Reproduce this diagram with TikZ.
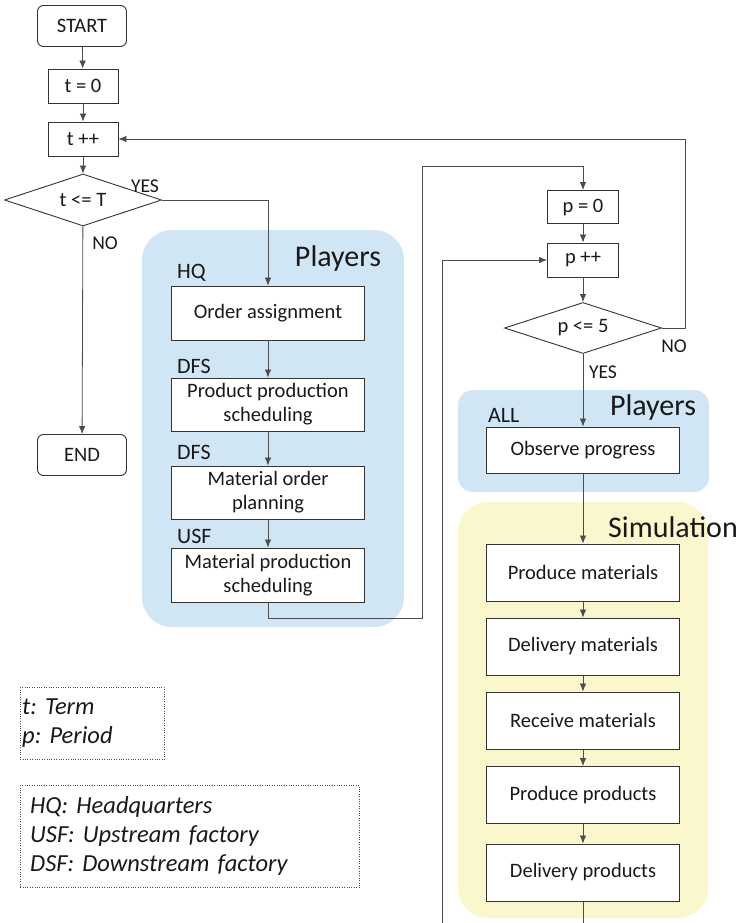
\documentclass[tikz,border=0pt]{standalone}
\usepackage{fontspec}
\setmainfont{Carlito}
\usepackage{xcolor}
\usetikzlibrary{positioning, arrows.meta, shapes.geometric}

\definecolor{playersblue}{HTML}{D0E6F5}
\definecolor{simyellow}{HTML}{FAF7CC}
\frenchspacing

\begin{document}
\begin{tikzpicture}[
    x=1pt, y=-1pt,
    every node/.style={text=black!90},
    flow/.style={draw=black!80, line width=0.9pt, fill=white, minimum width=193pt, minimum height=54pt, align=center, inner sep=2pt, font=\fontsize{20.5}{24}\selectfont},
    counter/.style={flow, minimum width=70pt, minimum height=34pt},
    terminal/.style={counter, rounded corners=6pt, minimum width=89pt, minimum height=41pt},
    decision/.style={draw=black!80, line width=0.9pt, fill=white, diamond, aspect=3, minimum width=157pt, minimum height=52pt, inner sep=1pt, font=\fontsize{20.5}{24}\selectfont},
    simstep/.style={flow, minimum height=57pt},
    role/.style={anchor=west, inner sep=0pt, font=\fontsize{22}{24}\selectfont},
    group/.style={font=\fontsize{30}{34}\selectfont},
    answer/.style={font=\fontsize{19.5}{22}\selectfont},
    legend/.style={draw=black!70, dotted, anchor=north west, align=left, font=\fontsize{24.5}{29}\selectfont\itshape},
    arr/.style={-{Latex[length=8pt, width=6.5pt]}, draw=black!70, line width=0.8pt},
    link/.style={draw=black!70, line width=0.8pt},
]
\useasboundingbox (0,0) rectangle (741,923);

% --- background panels ---
\fill[playersblue, rounded corners=30pt] (142,230) rectangle (404,627);
\fill[playersblue, rounded corners=15pt] (458,390) rectangle (709,492);
\fill[simyellow, rounded corners=30pt] (458,502) rectangle (708,918);

% --- term loop ---
\node[terminal] (start) at (82,26) {START};
\node[counter] (tzero) at (83,86) {t = 0};
\node[counter] (tinc) at (83,139) {t ++};
\node[decision] (tcheck) at (83,200) {t <= T};
\node[terminal] (stop) at (82,455) {END};

\draw[arr] (start) -- (tzero);
\draw[arr] (tzero) -- (tinc);
\draw[arr] (tinc) -- (tcheck);
\draw[arr] (tcheck) -- (stop);

\node[answer] (tyes) at (145,186) {YES};
\node[answer] (tno) at (105,243) {NO};

% --- planning by players ---
\node[group] (planners) at (338,258) {Players};
\node[role] (hq) at (177,273) {HQ};
\node[flow] (order) at (268,313) {Order assignment};
\node[role] (dfsa) at (177,366) {DFS};
\node[flow, minimum height=53pt] (prodsched) at (268,404.5) {Product production\\scheduling};
\node[role] (dfsb) at (177,452) {DFS};
\node[flow, minimum height=53pt] (matplan) at (268,492.5) {Material order\\planning};
\node[role] (usf) at (177,536) {USF};
\node[flow] (matsched) at (268,575) {Material production\\scheduling};

\draw[arr] (tcheck.east) -| (order.north);
\draw[arr] (order) -- (prodsched);
\draw[arr] (prodsched) -- (matplan);
\draw[arr] (matplan) -- (matsched);

% --- period loop ---
\node[counter, minimum width=71pt, minimum height=33pt] (pzero) at (583,207) {p = 0};
\node[counter, minimum width=71pt] (pinc) at (583,260) {p ++};
\node[decision, minimum height=51pt] (pcheck) at (583,328) {p <= 5};

\draw[arr] (matsched.south) |- (422,618) -- (422,166) -| (pzero.north);
\draw[arr] (pzero) -- (pinc);
\draw[arr] (pinc) -- (pcheck);
\draw[arr] (pcheck.east) -- ++(23,0) |- (tinc.east);

\node[answer] (pno) at (674,346) {NO};
\node[answer] (pyes) at (603,372) {YES};

% --- observation ---
\node[group] (observers) at (653,407) {Players};
\node[role] (all) at (488,415) {ALL};
\node[flow, minimum height=46pt] (observe) at (583,450) {Observe progress};

\draw[arr] (pcheck) -- (observe);

% --- simulation steps ---
\node[group] (simulation) at (673,527) {Simulation};
\node[simstep] (prodmat) at (583,572.5) {Produce materials};
\node[simstep] (delmat) at (583,646.5) {Delivery materials};
\node[simstep] (recmat) at (583,720.5) {Receive materials};
\node[simstep] (prodprod) at (583,795) {Produce products};
\node[simstep] (delprod) at (583,872.5) {Delivery products};

\draw[arr] (observe) -- (prodmat);
\draw[arr] (prodmat) -- (delmat);
\draw[arr] (delmat) -- (recmat);
\draw[arr] (recmat) -- (prodprod);
\draw[arr] (prodprod) -- (delprod);

% back to the next period
\coordinate (loopout) at (583,923);
\coordinate (loopin) at (442,923);
\draw[link] (delprod.south) -- (loopout);
\draw[arr] (loopin) |- (pinc.west);

% --- legend ---
\node[legend, minimum width=144pt, minimum height=72pt, text width=140pt, inner xsep=2pt] (termkey) at (20,687) {t: Term\\p: Period};
\node[legend, minimum width=339pt, minimum height=102pt, text width=319pt, inner xsep=10pt] (rolekey) at (20,785) {HQ: Headquarters\\USF: Upstream factory\\DSF: Downstream factory};

\end{tikzpicture}
\end{document}
